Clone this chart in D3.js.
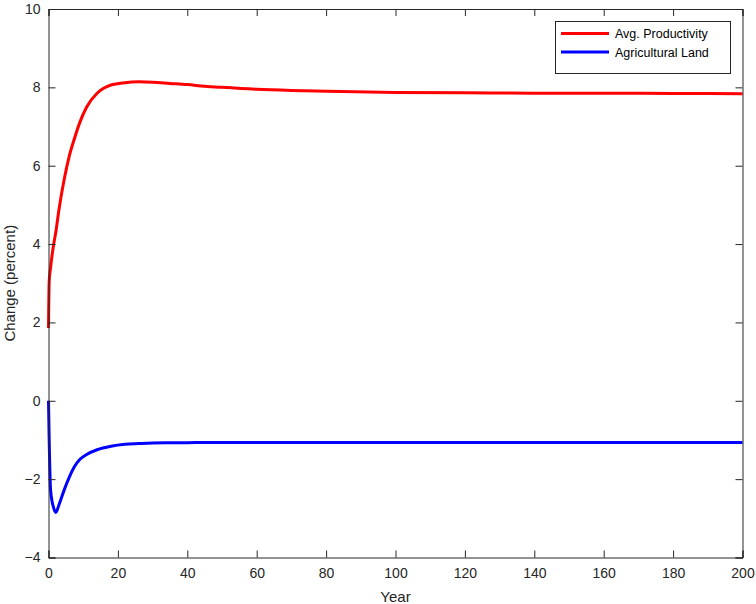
<!DOCTYPE html>
<html><head><meta charset="utf-8">
<script src="https://cdn.jsdelivr.net/npm/d3@7"></script>
<style>body{margin:0;background:#fff}svg{display:block}text{font-family:"Liberation Sans",Arial,Helvetica,sans-serif}</style>
</head><body><svg id="c" width="756" height="604"></svg>
<script>
const years = [0, 0.2, 0.6, 1.5, 2.1, 3, 4.5, 6, 7.5, 9, 11, 14, 18, 22, 26, 30, 35, 40, 45, 50, 60, 70, 80, 100, 120, 140, 160, 180, 200];
const productivity = [1.86, 3.05, 3.4, 4.0, 4.3, 4.87, 5.64, 6.25, 6.7, 7.1, 7.5, 7.85, 8.06, 8.12, 8.14, 8.13, 8.1, 8.07, 8.03, 8.0, 7.95, 7.92, 7.9, 7.87, 7.86, 7.85, 7.85, 7.845, 7.84];
const land = [0, -1.0, -2.28, -2.74, -2.85, -2.66, -2.28, -1.95, -1.68, -1.5, -1.37, -1.25, -1.16, -1.11, -1.09, -1.075, -1.07, -1.068, -1.066, -1.065, -1.065, -1.065, -1.065, -1.065, -1.065, -1.065, -1.065, -1.065, -1.065];
const xTicks = [0, 20, 40, 60, 80, 100, 120, 140, 160, 180, 200];
const yTicks = [-4, -2, 0, 2, 4, 6, 8, 10];
const seriesNames = ["Avg. Productivity", "Agricultural Land"];
const seriesColors = ["#ff0000", "#0000ff"];

const svg = d3.select("#c");
const L = 48.5, R = 742.5, T = 9, B = 557.5;
const x = d3.scaleLinear().domain([0, 200]).range([L, R]);
const y = d3.scaleLinear().domain([-4, 10]).range([B, T]);
const axisColor = "#262626";

// lines
const series = [productivity, land];
const line = d3.line().curve(d3.curveMonotoneX);
series.forEach((s, i) => {
  svg.append("path")
    .attr("d", line(years.map((yr, j) => [x(yr), y(s[j])])))
    .attr("fill", "none").attr("stroke", seriesColors[i]).attr("stroke-width", 3)
    .attr("stroke-linejoin", "round");
});

// axes (ticks inward, box)
const tl = 7;
const gx = svg.append("g").attr("transform", `translate(0,${B})`)
  .call(d3.axisBottom(x).tickValues(xTicks).tickSize(-tl).tickPadding(11).tickFormat(d3.format("d")));
const gxt = svg.append("g").attr("transform", `translate(0,${T})`)
  .call(d3.axisTop(x).tickValues(xTicks).tickSize(-tl).tickFormat(""));
const gy = svg.append("g").attr("transform", `translate(${L},0)`)
  .call(d3.axisLeft(y).tickValues(yTicks).tickSize(-tl).tickPadding(8).tickFormat(d3.format("d")));
const gyr = svg.append("g").attr("transform", `translate(${R},0)`)
  .call(d3.axisRight(y).tickValues(yTicks).tickSize(-tl).tickFormat(""));
[gx, gxt, gy, gyr].forEach(g => {
  g.select(".domain").attr("stroke", axisColor).attr("stroke-width", 1);
  g.selectAll(".tick line").attr("stroke", axisColor);
  g.selectAll(".tick text").attr("fill", axisColor).style("font-size", "14px")
    .style("font-family", '"Liberation Sans",Arial,sans-serif');
});

// axis labels
svg.append("text").attr("x", (L + R) / 2).attr("y", 602).attr("text-anchor", "middle")
  .attr("fill", axisColor).style("font-size", "15px").text("Year");
svg.append("text").attr("transform", `translate(15,${(T + B) / 2}) rotate(-90)`)
  .attr("text-anchor", "middle").attr("fill", axisColor).style("font-size", "15px").text("Change (percent)");

// legend
const lg = svg.append("g");
lg.append("rect").attr("x", 555.5).attr("y", 21.5).attr("width", 175).attr("height", 52)
  .attr("fill", "#fff").attr("stroke", axisColor).attr("stroke-width", 1);
seriesNames.forEach((n, i) => {
  const yy = 33.5 + i * 18.5;
  lg.append("line").attr("x1", 561).attr("x2", 609).attr("y1", yy).attr("y2", yy)
    .attr("stroke", seriesColors[i]).attr("stroke-width", 3);
  lg.append("text").attr("x", 615).attr("y", yy + 4.5).attr("fill", "#000")
    .style("font-size", "12.5px").text(n);
});
</script></body></html>
